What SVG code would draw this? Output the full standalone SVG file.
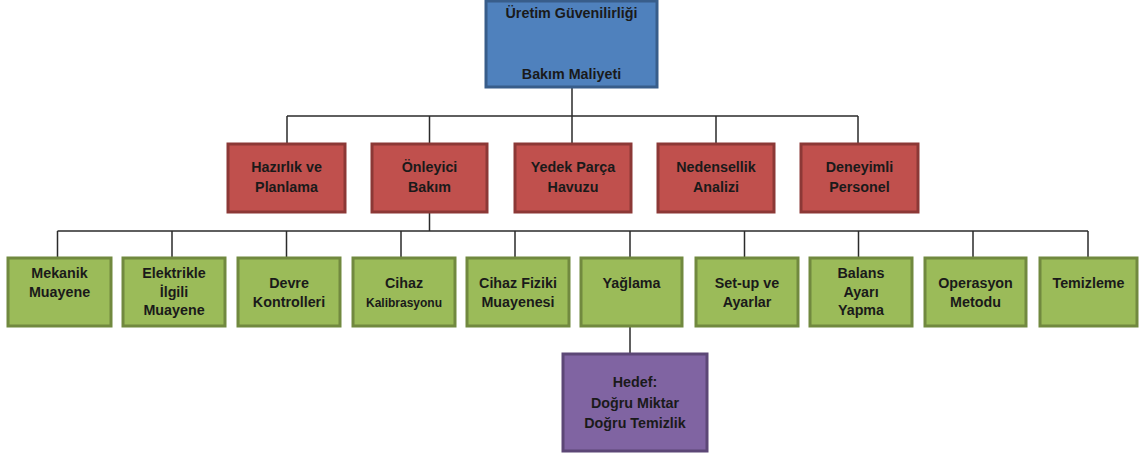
<svg xmlns="http://www.w3.org/2000/svg" width="1139" height="459" viewBox="0 0 1139 459">
<style>
.t{font-family:"Liberation Sans",Arial,sans-serif;font-weight:bold;font-size:14.3px;fill:#1a1a1a;text-anchor:middle}
.sm{font-size:12px}
.blue{fill:#4F81BD;stroke:#385D8A;stroke-width:3}
.red{fill:#C0504D;stroke:#8C3836;stroke-width:3}
.green{fill:#9BBB59;stroke:#71893F;stroke-width:3}
.purple{fill:#8064A2;stroke:#5C4776;stroke-width:3}
.c{fill:none;stroke:#2b2b2b;stroke-width:1.5}
</style>
<rect width="1139" height="459" fill="#fff"/>
<g id="connectors" class="c">
<path d="M572 88V116M287 116H858M287 116V143M429.5 116V143M572 116V143M716 116V143M858 116V143"/>
<path d="M429.5 212V231M57.5 231H1088M57.5 231V257M172 231V257M286.5 231V257M401 231V257M515 231V257M630 231V257M744.5 231V257M858.5 231V257M973 231V257M1088 231V257"/>
<path d="M630 327V353"/>
</g>
<g id="n-top"><rect class="blue" x="486" y="1" width="171" height="86"/><text class="t" x="571.5" y="18">Üretim Güvenilirliği</text><text class="t" x="571.5" y="79">Bakım Maliyeti</text></g>
<g id="n-hazirlik"><rect class="red" x="228" y="144" width="117" height="68"/><text class="t" x="286.5" y="172">Hazırlık ve</text><text class="t" x="286.5" y="192">Planlama</text></g>
<g id="n-onleyici"><rect class="red" x="372" y="144" width="115" height="68"/><text class="t" x="429.5" y="172">Önleyici</text><text class="t" x="429.5" y="192">Bakım</text></g>
<g id="n-yedek"><rect class="red" x="515" y="144" width="116" height="68"/><text class="t" x="573" y="172">Yedek Parça</text><text class="t" x="573" y="192">Havuzu</text></g>
<g id="n-nedensellik"><rect class="red" x="658" y="144" width="116" height="68"/><text class="t" x="716" y="172">Nedensellik</text><text class="t" x="716" y="192">Analizi</text></g>
<g id="n-deneyimli"><rect class="red" x="801" y="144" width="117" height="68"/><text class="t" x="859.5" y="172">Deneyimli</text><text class="t" x="859.5" y="192">Personel</text></g>
<g id="n-mekanik"><rect class="green" x="8" y="258" width="103" height="68"/><text class="t" x="59.5" y="278">Mekanik</text><text class="t" x="59.5" y="297">Muayene</text></g>
<g id="n-elektrikle"><rect class="green" x="123" y="258" width="102" height="68"/><text class="t" x="174" y="278">Elektrikle</text><text class="t" x="174" y="297">İlgili</text><text class="t" x="174" y="315">Muayene</text></g>
<g id="n-devre"><rect class="green" x="238" y="258" width="102" height="68"/><text class="t" x="289" y="288">Devre</text><text class="t" x="289" y="307">Kontrolleri</text></g>
<g id="n-cihazkal"><rect class="green" x="353" y="258" width="102" height="68"/><text class="t" x="404" y="288">Cihaz</text><text class="t sm" x="404" y="307">Kalibrasyonu</text></g>
<g id="n-cihazfiz"><rect class="green" x="467" y="258" width="102" height="68"/><text class="t" x="518" y="288">Cihaz Fiziki</text><text class="t" x="518" y="307">Muayenesi</text></g>
<g id="n-yaglama"><rect class="green" x="581" y="258" width="101" height="68"/><text class="t" x="631.5" y="288">Yağlama</text></g>
<g id="n-setup"><rect class="green" x="696" y="258" width="102" height="68"/><text class="t" x="747" y="288">Set-up ve</text><text class="t" x="747" y="307">Ayarlar</text></g>
<g id="n-balans"><rect class="green" x="810" y="258" width="102" height="68"/><text class="t" x="861" y="278">Balans</text><text class="t" x="861" y="297">Ayarı</text><text class="t" x="861" y="315">Yapma</text></g>
<g id="n-operasyon"><rect class="green" x="925" y="258" width="101" height="68"/><text class="t" x="975.5" y="288">Operasyon</text><text class="t" x="975.5" y="307">Metodu</text></g>
<g id="n-temizleme"><rect class="green" x="1040" y="258" width="97" height="68"/><text class="t" x="1088.5" y="288">Temizleme</text></g>
<g id="n-hedef"><rect class="purple" x="563" y="354" width="144" height="97"/><text class="t" x="635" y="387">Hedef:</text><text class="t" x="635" y="408">Doğru Miktar</text><text class="t" x="635" y="428">Doğru Temizlik</text></g>
</svg>
